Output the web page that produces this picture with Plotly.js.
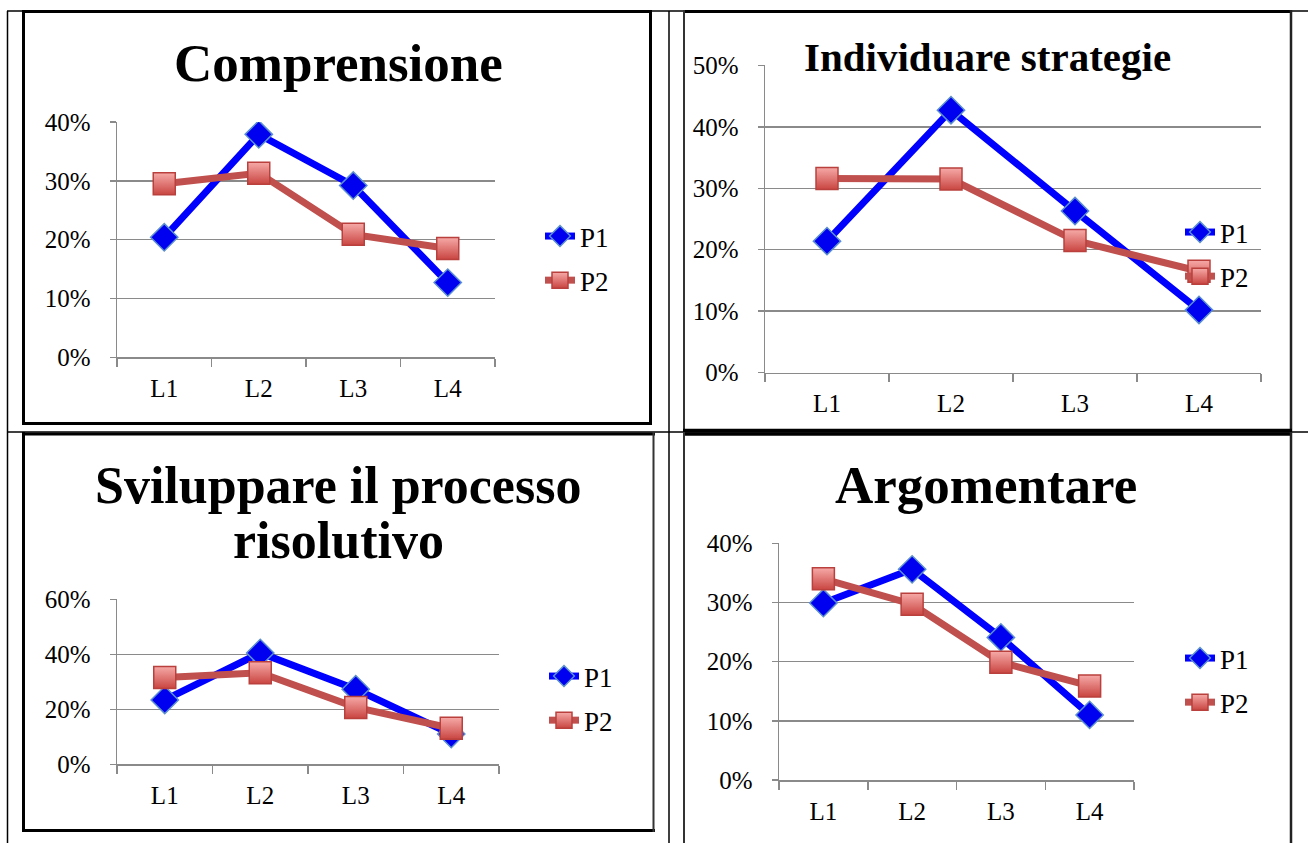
<!DOCTYPE html>
<html><head><meta charset="utf-8">
<script src="https://cdn.plot.ly/plotly-3.0.1.min.js"></script>
<style>html,body{margin:0;padding:0;background:#fff}#chart{width:1308px;height:843px}</style>
</head><body><div id="chart"></div>
<script>
// ---- data ----
const categories = ['L1', 'L2', 'L3', 'L4'];
const seriesNames = ['P1', 'P2'];
const titles = ['Comprensione', 'Individuare strategie', 'Sviluppare il processo<br>risolutivo', 'Argomentare'];
const comprensioneP1 = [0.204, 0.379, 0.292, 0.127];
const comprensioneP2 = [0.295, 0.313, 0.209, 0.185];
const strategieP1 = [0.214, 0.427, 0.263, 0.102];
const strategieP2 = [0.316, 0.315, 0.215, 0.165];
const processoP1 = [0.234, 0.405, 0.273, 0.110];
const processoP2 = [0.316, 0.333, 0.207, 0.131];
const argomentareP1 = [0.299, 0.356, 0.241, 0.110];
const argomentareP2 = [0.340, 0.297, 0.199, 0.159];
const yMax = [0.4, 0.5, 0.6, 0.4];
const yStep = [0.1, 0.1, 0.2, 0.1];

// ---- geometry (pixels) ----
const W = 1308, H = 843;
const px = x => x / W;
const py = y => 1 - y / H;
const panels = [
  {x0: 117, x1: 495, yb: 357.3, yt: 122.0, title: {x: 338, y: 63, size: 53, gap: 56}, leg: {x: 540, y: 212}},
  {x0: 765, x1: 1261, yb: 372.7, yt: 65.3, title: {x: 988, y: 57, size: 41, gap: 45}, leg: {x: 1180, y: 208}},
  {x0: 117, x1: 499, yb: 764.3, yt: 599.3, title: {x: 338, y: 485, size: 52, gap: 55}, leg: {x: 544, y: 652}},
  {x0: 779, x1: 1134, yb: 780.0, yt: 543.3, title: {x: 986, y: 485, size: 53, gap: 56}, leg: {x: 1180, y: 634}}
];
const seriesData = [
  [comprensioneP1, comprensioneP2],
  [strategieP1, strategieP2],
  [processoP1, processoP2],
  [argomentareP1, argomentareP2]
];

const serif = '"Liberation Serif", "DejaVu Serif", serif';
const tickFont = {family: serif, size: 25, color: '#000'};
const legFont = {family: serif, size: 27, color: '#000'};
const gridCol = '#8a8a8a';
const traces = [];
const layout = {
  width: W, height: H,
  margin: {l: 0, r: 0, t: 0, b: 0},
  paper_bgcolor: '#fff', plot_bgcolor: 'rgba(0,0,0,0)',
  font: {family: serif},
  showlegend: true,
  annotations: [], shapes: []
};

panels.forEach((p, i) => {
  const n = i + 1;
  const xa = n === 1 ? 'x' : 'x' + n, ya = n === 1 ? 'y' : 'y' + n;
  const legName = n === 1 ? 'legend' : 'legend' + n;
  seriesData[i].forEach((vals, s) => {
    const isP1 = s === 0;
    traces.push({
      type: 'scatter', mode: 'lines+markers',
      x: categories, y: vals, name: seriesNames[s],
      xaxis: xa, yaxis: ya, legend: legName, legendgroup: 'g' + n + s,
      line: {color: isP1 ? '#0000ff' : '#c0504d', width: 7},
      marker: isP1
        ? {symbol: 'diamond', size: 21, color: '#0000f0', line: {color: '#5b8fd0', width: 1.5}}
        : {symbol: 'square', size: 22, color: '#f6aaa8', gradient: {type: 'vertical', color: '#c94541'}, line: {color: '#b9403d', width: 1.5}},
      hoverinfo: 'skip'
    });
  });
  const tv = [];
  for (let v = 0; v <= yMax[i] + 1e-9; v += yStep[i]) tv.push(+v.toFixed(2));
  layout[n === 1 ? 'xaxis' : 'xaxis' + n] = {
    domain: [px(p.x0), px(p.x1)], anchor: ya,
    type: 'category', range: [-0.5, 3.5], fixedrange: true,
    showgrid: false, zeroline: false,
    showline: true, linecolor: gridCol, linewidth: 1.5,
    ticks: 'outside', tickson: 'boundaries', ticklen: 8, tickcolor: gridCol, tickwidth: 1.5,
    tickfont: tickFont, ticklabelstandoff: 8
  };
  layout[n === 1 ? 'yaxis' : 'yaxis' + n] = {
    domain: [py(p.yb), py(p.yt)], anchor: xa,
    range: [0, yMax[i]], fixedrange: true,
    tickvals: tv, tickformat: '.0%',
    showgrid: true, gridcolor: gridCol, gridwidth: 1.5, zeroline: false,
    showline: true, linecolor: gridCol, linewidth: 1.5,
    ticks: 'outside', ticklen: 6, tickcolor: gridCol, tickwidth: 1.5,
    tickfont: tickFont, ticklabelstandoff: 14
  };
  layout[legName] = {
    x: px(p.leg.x), y: py(p.leg.y), xanchor: 'left', yanchor: 'top',
    bgcolor: 'rgba(0,0,0,0)', borderwidth: 0,
    font: legFont, tracegroupgap: 6, itemwidth: 30
  };
  const lines = titles[i].split('<br>');
  lines.forEach((t, k) => {
    layout.annotations.push({
      xref: 'paper', yref: 'paper', x: px(p.title.x), y: py(p.title.y + k * p.title.gap),
      xanchor: 'center', yanchor: 'middle', showarrow: false,
      text: '<b>' + t + '</b>',
      font: {family: serif, size: p.title.size, color: '#000'}
    });
  });
});

// ---- table and chart frames ----
function seg(x0, y0, x1, y1, w, c, dash) {
  layout.shapes.push({type: 'line', xref: 'paper', yref: 'paper',
    x0: px(x0), y0: py(y0), x1: px(x1), y1: py(y1),
    line: {color: c || '#000', width: w, dash: dash || 'solid'}, layer: 'above'});
}
// table grid
seg(7.5, 11, 7.5, 843, 1.5);
seg(7, 11, 1308, 11, 1.5);
seg(669, 11, 669, 843, 1.5);
seg(7, 432, 1308, 432, 1.5);
// chart 1 frame
seg(23.5, 11.5, 23.5, 424, 3);
seg(22, 11.5, 652, 11.5, 3);
seg(650.5, 10, 650.5, 424, 3);
seg(22, 423.5, 652, 423.5, 3);
// chart 2 frame
seg(683, 11.5, 1292, 11.5, 3);
seg(684, 10, 684, 432, 2, '#333');
seg(1291, 10, 1291, 432, 2.5, '#222');
seg(683, 430.5, 1292, 430.5, 3.5);
// chart 3 frame
seg(22, 434, 655, 434, 3);
seg(23.5, 432, 23.5, 832, 3);
seg(22, 830.5, 655, 830.5, 3);
seg(653.5, 432, 653.5, 832, 2, '#333');
// chart 4 frame
seg(683, 434, 1292, 434, 3.5);
seg(684, 432, 684, 843, 2, '#333');
seg(1291, 432, 1291, 843, 2.5, '#222');

Plotly.newPlot('chart', traces, layout, {displayModeBar: false, staticPlot: true});
</script>
</body></html>
